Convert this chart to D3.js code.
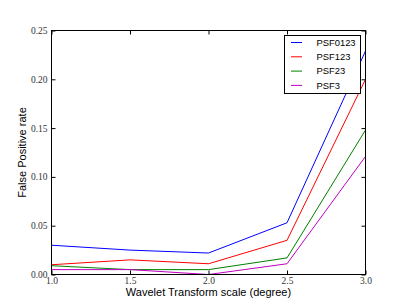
<!DOCTYPE html>
<html>
<head>
<meta charset="utf-8">
<script src="https://cdn.jsdelivr.net/npm/d3@7"></script>
<style>
  body { margin: 0; background: #fff; }
  svg { display: block; }
</style>
</head>
<body>
<div id="chart"></div>
<script>
// data
const scales = [1.0, 1.5, 2.0, 2.5, 3.0];
const psf0123 = [0.030, 0.025, 0.022, 0.053, 0.229];
const psf123 = [0.010, 0.015, 0.011, 0.035, 0.200];
const psf23 = [0.009, 0.005, 0.005, 0.017, 0.148];
const psf3 = [0.005, 0.005, 0.000, 0.011, 0.121];
const seriesNames = ["PSF0123", "PSF123", "PSF23", "PSF3"];
const seriesColors = ["#0000ff", "#ff0000", "#008000", "#bf00bf"];
const xTicks = [1.0, 1.5, 2.0, 2.5, 3.0];
const yTicks = [0.00, 0.05, 0.10, 0.15, 0.20, 0.25];

const width = 407, height = 305;
const plotLeft = 51.5, plotRight = 365.5, plotTop = 30.5, plotBottom = 274.5;

const svg = d3.select("#chart")
    .append("svg")
    .attr("width", width)
    .attr("height", height);

const xScale = d3.scaleLinear().domain([1, 3]).range([plotLeft, plotRight]);
const yScale = d3.scaleLinear().domain([0, 0.25]).range([plotBottom, plotTop]);

// lines
const allSeries = [psf0123, psf123, psf23, psf3];
const line = d3.line()
    .x((d, i) => xScale(scales[i]))
    .y(d => yScale(d));

allSeries.forEach((s, i) => {
    svg.append("path")
        .datum(s)
        .attr("fill", "none")
        .attr("stroke", seriesColors[i])
        .attr("stroke-width", 1)
        .attr("d", line);
});

// frame
svg.append("rect")
    .attr("x", plotLeft).attr("y", plotTop)
    .attr("width", plotRight - plotLeft).attr("height", plotBottom - plotTop)
    .attr("fill", "none")
    .attr("stroke", "#000")
    .attr("stroke-width", 1);

// inward ticks on all four sides, matplotlib classic style
const tickLen = 4;
const xBottom = d3.axisBottom(xScale).tickValues(xTicks).tickSize(-tickLen).tickFormat(d3.format(".1f")).tickPadding(3);
const xTop = d3.axisTop(xScale).tickValues(xTicks).tickSize(-tickLen).tickFormat("");
const yLeft = d3.axisLeft(yScale).tickValues(yTicks).tickSize(-tickLen).tickFormat(d3.format(".2f")).tickPadding(4);
const yRight = d3.axisRight(yScale).tickValues(yTicks).tickSize(-tickLen).tickFormat("");

function styleAxis(g) {
    g.attr("font-family", "'Liberation Serif', 'DejaVu Serif', serif")
        .attr("font-size", "9.5px");
    g.select(".domain").remove();
    g.selectAll(".tick line").attr("stroke", "#000");
    g.selectAll(".tick text").attr("fill", "#333");
}

svg.append("g").attr("transform", `translate(0,${plotBottom})`).call(xBottom).call(styleAxis);
svg.append("g").attr("transform", `translate(0,${plotTop})`).call(xTop).call(styleAxis);
svg.append("g").attr("transform", `translate(${plotLeft},0)`).call(yLeft).call(styleAxis);
svg.append("g").attr("transform", `translate(${plotRight},0)`).call(yRight).call(styleAxis);

// axis labels
svg.append("text")
    .attr("x", (plotLeft + plotRight) / 2)
    .attr("y", 296)
    .attr("text-anchor", "middle")
    .attr("font-family", "'Liberation Sans', Arial, sans-serif")
    .attr("font-size", "11px")
    .text("Wavelet Transform scale (degree)");

svg.append("text")
    .attr("transform", `translate(26,${(plotTop + plotBottom) / 2}) rotate(-90)`)
    .attr("text-anchor", "middle")
    .attr("font-family", "'Liberation Sans', Arial, sans-serif")
    .attr("font-size", "11px")
    .text("False Positive rate");

// legend
const legend = svg.append("g");
legend.append("rect")
    .attr("x", 284.5).attr("y", 35.5)
    .attr("width", 76).attr("height", 58)
    .attr("fill", "#fff")
    .attr("stroke", "#000")
    .attr("stroke-width", 1);

seriesNames.forEach((name, i) => {
    const y = 42.5 + i * 14.3;
    legend.append("line")
        .attr("x1", 291).attr("x2", 302)
        .attr("y1", y).attr("y2", y)
        .attr("stroke", seriesColors[i])
        .attr("stroke-width", 1);
    legend.append("text")
        .attr("x", 316.5)
        .attr("y", y)
        .attr("dy", "0.35em")
        .attr("font-family", "'Liberation Sans', Arial, sans-serif")
        .attr("font-size", "9.4px")
        .text(name);
});
</script>
</body>
</html>
